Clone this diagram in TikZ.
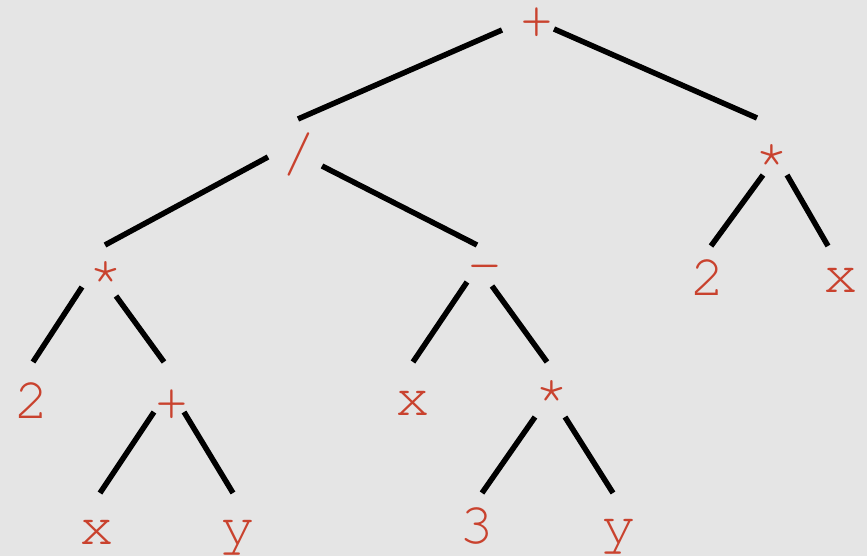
\documentclass[tikz,border=0pt]{standalone}
\usepackage[T1]{fontenc}
\usepackage{tikz}
\definecolor{paper}{RGB}{229,229,229}
\definecolor{symred}{RGB}{201,66,46}
\tikzset{
  exprsym/.style={anchor=base,inner sep=0pt,text=symred,font=\fontfamily{pcr}\fontsize{58}{60}\selectfont},
  exprline/.style={line width=5.5pt,black},
  every picture/.style={x=1pt,y=-1pt}
}
\begin{document}
\begin{tikzpicture}
  \fill[paper] (0,0) rectangle (867,556);
  \useasboundingbox (0,0) rectangle (867,556);
  % operators
  \node[exprsym] (root) at (537,39) {+};
  \node[exprsym] (div) at (299,172) {/};
  \node[exprsym] (mulR) at (772,169) {*};
  \node[exprsym] (mulL) at (106,286) {*};
  \node[exprsym] (minus) at (484.5,282) {-};
  \node[exprsym] (plusI) at (171.5,420) {+};
  \node[exprsym] (mulM) at (552,405) {*};
  % leaves
  \node[exprsym] (twoL) at (31.5,418) {2};
  \node[exprsym] (xM) at (413,415) {x};
  \node[exprsym] (twoR) at (708,295) {2};
  \node[exprsym] (xR) at (840.5,292) {x};
  \node[exprsym] (xB) at (96.5,544) {x};
  \node[exprsym] (yL) at (238,544) {y};
  \node[exprsym] (three) at (477,543) {3};
  \node[exprsym] (yR) at (619,543) {y};
  % edges
  \draw[exprline] ([shift={(-35,-9)}]root.base) -- ([shift={(-1,-53)}]div.base);
  \draw[exprline] ([shift={(17,-10)}]root.base) -- ([shift={(-15,-51)}]mulR.base);
  \draw[exprline] ([shift={(-31,-15)}]div.base) -- ([shift={(-1,-41)}]mulL.base);
  \draw[exprline] ([shift={(23,-6)}]div.base) -- ([shift={(-7.5,-37)}]minus.base);
  \draw[exprline] ([shift={(-24,1)}]mulL.base) -- ([shift={(1.5,-56)}]twoL.base);
  \draw[exprline] ([shift={(10,10)}]mulL.base) -- ([shift={(-7.5,-58)}]plusI.base);
  \draw[exprline] ([shift={(-17.5,-8)}]plusI.base) -- ([shift={(3.5,-51)}]xB.base);
  \draw[exprline] ([shift={(12.5,-8)}]plusI.base) -- ([shift={(-5,-51)}]yL.base);
  \draw[exprline] ([shift={(-17.5,0)}]minus.base) -- ([shift={(0,-53)}]xM.base);
  \draw[exprline] ([shift={(7.5,4)}]minus.base) -- ([shift={(-5,-43)}]mulM.base);
  \draw[exprline] ([shift={(-17,12)}]mulM.base) -- ([shift={(5,-50)}]three.base);
  \draw[exprline] ([shift={(13,12)}]mulM.base) -- ([shift={(-6,-50)}]yR.base);
  \draw[exprline] ([shift={(-9,6)}]mulR.base) -- ([shift={(3,-49)}]twoR.base);
  \draw[exprline] ([shift={(15,6)}]mulR.base) -- ([shift={(-12.5,-46)}]xR.base);
\end{tikzpicture}
\end{document}
